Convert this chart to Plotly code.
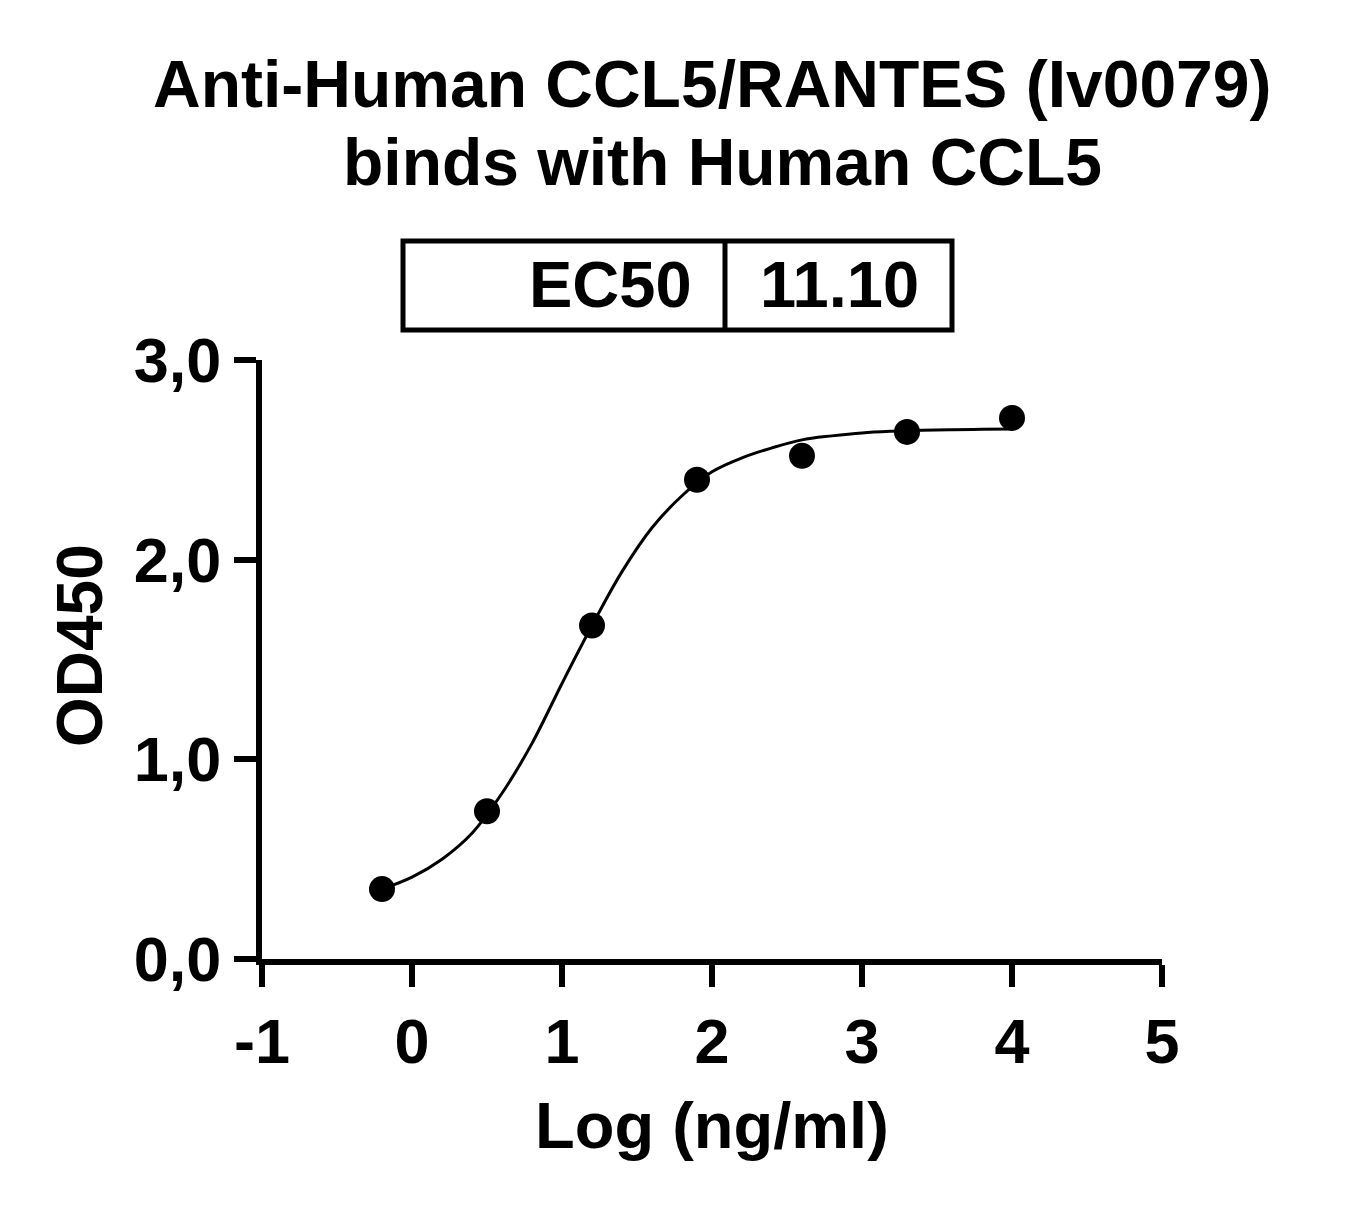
import plotly.graph_objects as go

# measured points (log ng/ml vs OD450)
log_conc = [-0.2, 0.5, 1.2, 1.9, 2.6, 3.3, 4.0]
od450 = [0.35, 0.74, 1.67, 2.40, 2.52, 2.64, 2.71]

# fitted curve
curve_x = [-0.2, 0.0, 0.2, 0.4, 0.6, 0.8, 1.0, 1.2, 1.4, 1.6, 1.8,
           2.0, 2.2, 2.4, 2.6, 2.8, 3.0, 3.2, 3.4, 3.6, 3.8, 4.0]
curve_y = [0.35, 0.41, 0.50, 0.63, 0.83, 1.08, 1.38, 1.67, 1.94, 2.16, 2.32,
           2.44, 2.51, 2.56, 2.60, 2.62, 2.635, 2.643, 2.648, 2.651, 2.653, 2.655]

x_ticks = [-1, 0, 1, 2, 3, 4, 5]
x_ticktext = ["-1", "0", "1", "2", "3", "4", "5"]
y_ticks = [0, 1, 2, 3]
y_ticktext = ["0,0", "1,0", "2,0", "3,0"]

ec50_label = "EC50"
ec50_value = "11.10"

FONT = "Liberation Sans"

# page has an 8px body margin, so the figure sits at (8, 8)
OFF = 8
W, H = 1362 - OFF, 1208 - OFF
# plot area in page pixels, used to place the text and the EC50 box
L, R, T, B = 262, 1162, 360, 959


def px_x(p):
    return (p - L) / (R - L)


def px_y(p):
    return (B - p) / (B - T)


fig = go.Figure()
fig.add_trace(go.Scatter(x=curve_x, y=curve_y, mode="lines",
                         line=dict(color="black", width=3, shape="spline", smoothing=1),
                         hoverinfo="skip", showlegend=False))
fig.add_trace(go.Scatter(x=log_conc, y=od450, mode="markers",
                         marker=dict(color="black", size=26), showlegend=False))

axis_common = dict(showgrid=False, zeroline=False, showline=True, linecolor="black", linewidth=6,
                   ticks="outside", ticklen=22, tickwidth=6, tickcolor="black",
                   tickfont=dict(family=FONT, size=63, color="black", weight="bold"))

fig.update_layout(
    width=W, height=H,
    margin=dict(l=L - OFF, r=W - (R - OFF), t=T - OFF, b=H - (B - OFF)),
    plot_bgcolor="white", paper_bgcolor="white",
    font=dict(family=FONT, color="black"),
    xaxis=dict(range=[-1, 5], tickvals=x_ticks, ticktext=x_ticktext, ticklabelstandoff=0, **axis_common),
    yaxis=dict(range=[0, 3], tickvals=y_ticks, ticktext=y_ticktext, ticklabelstandoff=0, **axis_common),
)

def text(s, x, y, size, **kw):
    fig.add_annotation(text=s, xref="paper", yref="paper", x=px_x(x), y=px_y(y),
                       yanchor="middle", showarrow=False,
                       font=dict(family=FONT, size=size, color="black", weight="bold"), **kw)


text("Anti-Human CCL5/RANTES (Iv0079)", 712, 84, 66, xanchor="center")
text("binds with Human CCL5", 722, 162, 66, xanchor="center")
text("Log (ng/ml)", 712, 1125, 65, xanchor="center")
text("OD450", 80, 646, 64, xanchor="center", textangle=-90)

# EC50 table
fig.add_shape(type="rect", xref="paper", yref="paper", x0=px_x(403), x1=px_x(952),
              y0=px_y(330), y1=px_y(241), line=dict(color="black", width=5))
fig.add_shape(type="line", xref="paper", yref="paper", x0=px_x(725), x1=px_x(725),
              y0=px_y(330), y1=px_y(241), line=dict(color="black", width=5))
text(ec50_label, 694, 284, 65, xanchor="right")
text(ec50_value, 839, 284, 65, xanchor="center")

fig.write_html("out.html")
